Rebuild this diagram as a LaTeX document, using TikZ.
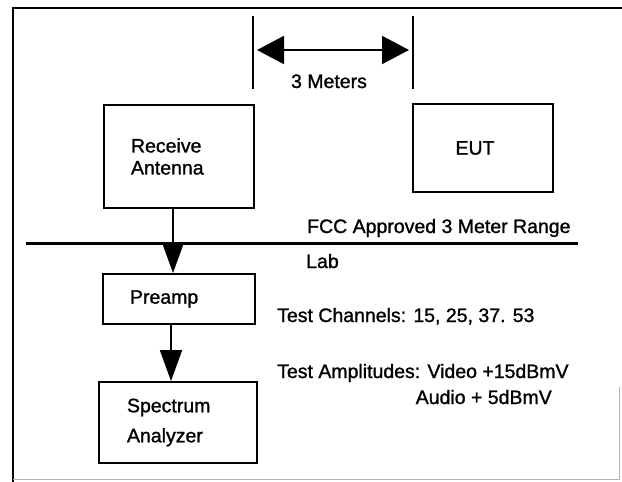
\documentclass[tikz,border=0pt]{standalone}
\usepackage{fontspec}
\setmainfont{Liberation Sans}[FakeBold=1.2]
\usetikzlibrary{arrows.meta}
\begin{document}
\begin{tikzpicture}[x=1pt, y=-1pt, font=\fontsize{19.5pt}{22pt}\selectfont,
    >={Triangle[length=31pt,width=22pt]},
    box/.style={draw, line width=2pt, align=left, inner ysep=0pt},
    lbl/.style={inner sep=0pt, anchor=base west}]
            \useasboundingbox (0,0) rectangle (622,482);
            \coordinate (FA) at (13,8);
            \coordinate (FB) at (622,8);
            \coordinate (FC) at (13,482);
            \coordinate (FD) at (619,387);
            \coordinate (FE) at (619,479);
            \draw[line width=2.5pt] (FC) -- (FA) -- (FB);
            \draw[gray!60, line width=0.8pt] (FC |- FE) -- (FE) -- (FD);
            \coordinate (T1) at (253,16);
            \coordinate (T2) at (253,89);
            \coordinate (T3) at (413,16);
            \coordinate (T4) at (413,89);
            \draw[line width=1.5pt] (T1) -- (T2) (T3) -- (T4);
            \coordinate (DL) at (257,50);
            \coordinate (DR) at (409,50);
            \draw[line width=2pt, {Triangle[length=27pt,width=28pt]}-{Triangle[length=27pt,width=28pt]}] (DL) -- (DR);
            \node[inner sep=0pt, anchor=base] (dist) at (329,88) {3 Meters};
            \node[box, minimum width=150pt, minimum height=103pt, text width=96pt, inner xsep=27pt] (ant) at (179,156.5) {Receive\\Antenna};
            \node[box, minimum width=140pt, minimum height=88pt, text width=55pt, inner xsep=42.5pt] (eut) at (483,148) {EUT};
            \node[lbl] (range) at (307,233) {FCC Approved 3 Meter Range};
            \coordinate (RL) at (26,243);
            \coordinate (RR) at (578,243);
            \draw[line width=3pt] (RL) -- (RR);
            \node[lbl] (lab) at (306,268) {Lab};
            \node[box, minimum width=152pt, minimum height=50pt, text width=98pt, inner xsep=27pt] (pre) at (179,299) {Preamp};
            \node[box, minimum width=158pt, minimum height=81pt, text width=102pt, inner xsep=28pt] (spa) at (178,422.5) {Spectrum\\[8pt]Analyzer};
            \draw[->, line width=2pt] ([xshift=-6pt]ant.south) -- ([xshift=-6pt]pre.north);
            \draw[->, line width=2pt] ([xshift=-8pt]pre.south) -- ([xshift=-7pt]spa.north);
            \node[lbl] (chan) at (277,322) {Test Channels: 15, 25, 37. 53};
            \node[lbl] (ampl) at (277,378) {Test Amplitudes: Video +15dBmV};
            \node[inner sep=0pt, anchor=base east] (audio) at (552,404) {Audio + 5dBmV};
        \end{tikzpicture}
\end{document}
